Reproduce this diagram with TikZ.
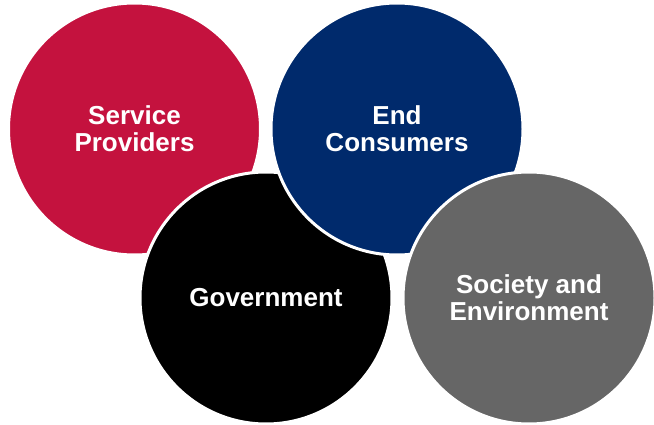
\documentclass[tikz,border=0pt]{standalone}
\usepackage{fontspec}
\setmainfont{Liberation Sans}
\definecolor{srvred}{RGB}{196,18,62}
\definecolor{consblue}{RGB}{0,42,108}
\definecolor{socgray}{RGB}{102,102,102}
\begin{document}
\begin{tikzpicture}[x=1pt, y=-1pt,
  bubble/.style={circle, minimum size=252pt, inner sep=0pt, draw=white, line width=3pt,
    text=white, align=center, font=\fontsize{26}{27}\selectfont\bfseries}]
\useasboundingbox (0,0) rectangle (654,425);
% drawn back to front so each white rim cuts the one below
\node[bubble, fill=srvred] (service) at (134.5,129) {Service\\Providers};
\node[bubble, fill=black] (gov) at (266,298) {Government};
\node[bubble, fill=consblue] (consumers) at (397,129) {End\\Consumers};
\node[bubble, fill=socgray] (society) at (529,298) {Society and\\Environment};
    \end{tikzpicture}
\end{document}
